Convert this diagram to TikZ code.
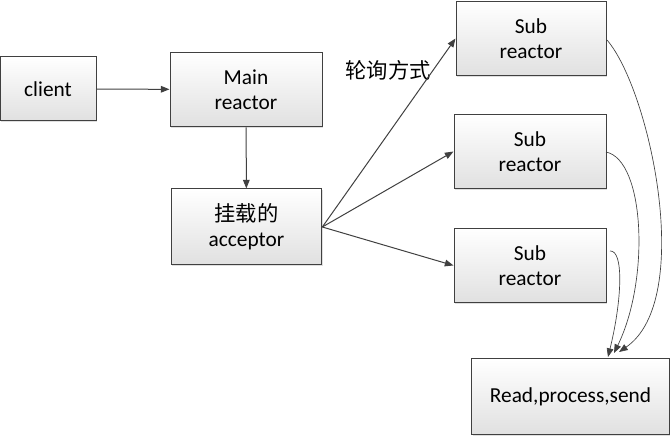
\documentclass[tikz,border=0pt]{standalone}
\usepackage{fontspec}
\setmainfont{Carlito}
\newfontfamily\cjk{Noto Sans CJK SC}
\usepackage{tikz}
\usetikzlibrary{positioning}
\usetikzlibrary{arrows.meta}
\usetikzlibrary{shadows}
\definecolor{frame}{rgb}{0.25,0.25,0.25}
\definecolor{boxtop}{rgb}{1.0,1.0,1.0}
\definecolor{boxbottom}{rgb}{0.88,0.88,0.88}

\begin{document}
\begin{tikzpicture}[
  x=0.75pt, y=-0.75pt,
  box/.style = {draw=frame, line width=0.75pt, top color=boxtop, bottom color=boxbottom,
    drop shadow={shadow xshift=0.8pt, shadow yshift=-0.8pt, opacity=0.25, fill=gray},
    align=center, inner sep=0pt, font=\fontsize{16}{18.75}\selectfont},
  line/.style = {frame, line width=0.75pt},
  curve/.style = {frame, line width=0.5pt},
  >={Triangle[length=6.5pt, width=5pt]},
]

  \useasboundingbox (0,0) rectangle (672,438);

  \node[box, minimum width=72pt, minimum height=48pt] (client) at (48,89) {client};
  \node[box, minimum width=114pt, minimum height=56pt] (main) at (246,89.5) {Main\\reactor};
  \node[box, minimum width=113pt, minimum height=57pt] (acceptor) at (246.5,227) {{\cjk\fontsize{16}{18.75}\selectfont 挂载的}\\acceptor};

  \node[box, minimum width=112.5pt, minimum height=56pt] (sub1) at (531,38.5) {Sub\\reactor};
  \node[box, minimum width=114pt, minimum height=56pt] (sub2) at (530,151.5) {Sub\\reactor};
  \node[box, minimum width=114pt, minimum height=56pt] (sub3) at (530,265.5) {Sub\\reactor};

  \node[box, minimum width=148pt, minimum height=57pt] (read) at (570.5,397) {Read,process,send};

  \node[font=\cjk\fontsize{16}{18}\selectfont, inner sep=0pt] (poll) at (388,70) {轮询方式};

  \draw[line,->] (client) -- (main);
  \draw[line,->] (main) -- (acceptor);

  \draw[line,->] (acceptor.east) -- (sub1.west);
  \draw[line,->] (acceptor.east) -- (sub2.west);
  \draw[line,->] (acceptor.east) -- (sub3.west);

  % sub reactors to the handler box
  \coordinate (out1) at (607,40);
  \coordinate (out2) at (606,152);
  \coordinate (out3) at (610,251);
  \coordinate (in1) at (619,352);
  \coordinate (in2) at (614,353);
  \coordinate (in3) at (608,357);
  \draw[curve,->] (out1) .. controls (650,90) and (695,300) .. (in1);
  \draw[curve,->] (out2) .. controls (645,160) and (650,280) .. (in2);
  \draw[curve,->] (out3) .. controls (624,250) and (622,300) .. (in3);

\end{tikzpicture}
\end{document}
